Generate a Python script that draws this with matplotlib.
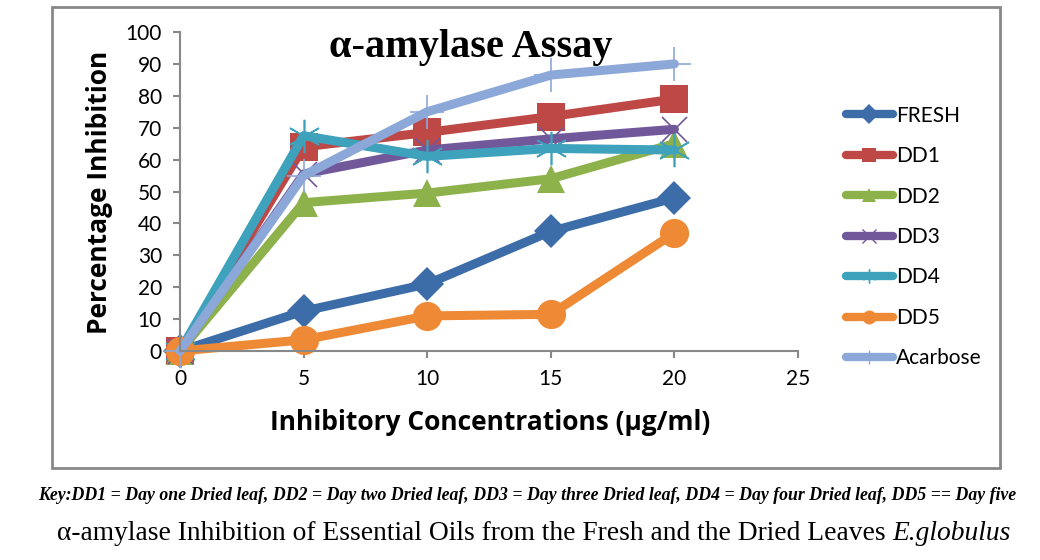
import matplotlib.pyplot as plt
from matplotlib.lines import Line2D
from matplotlib.patches import Rectangle

conc = [0, 5, 10, 15, 20]
fresh = [0, 12.5, 21, 37.5, 48]
dd1 = [0, 64, 68.5, 73.5, 79]
dd2 = [0, 46.5, 49.5, 54, 65]
dd3 = [0, 55.5, 63, 66.5, 69.5]
dd4 = [0, 67.5, 61, 63.5, 63]
dd5 = [0, 3.5, 11, 11.5, 37]
acarbose = [0, 55, 75, 86.5, 90]

names = ['FRESH', 'DD1', 'DD2', 'DD3', 'DD4', 'DD5', 'Acarbose']
series = [fresh, dd1, dd2, dd3, dd4, dd5, acarbose]
colors = ['#3D6DA8', '#BD4845', '#8DB24C', '#71589A', '#3FA2BD', '#EE8A35', '#8CA8D8']
markers = ['D', 's', '^', 'x', (6, 2, 0), 'o', '+']
msizes = [17, 20, 20, 18, 24, 21, 24]
thin_marks = [False, False, False, True, True, False, True]

fig = plt.figure(figsize=(10.4, 5.6), dpi=100)
fig.patches.append(Rectangle((52 / 1040, 1 - 468 / 560), 948 / 1040, 461 / 560,
                             transform=fig.transFigure, fill=False,
                             edgecolor='#888888', linewidth=2))

ax = fig.add_axes([180 / 1040, 1 - 351 / 560, 618 / 1040, 319 / 560])
for name, vals, c, m, ms, thin in zip(names, series, colors, markers, msizes, thin_marks):
    ax.plot(conc, vals, color=c, linewidth=6.5, solid_capstyle='round',
            marker=m, markersize=ms,
            markeredgecolor=c if thin else 'none',
            markeredgewidth=1.2 if thin else 0,
            markerfacecolor=c if not thin else 'none',
            clip_on=False, label=name)

ax.set_xlim(0, 25)
ax.set_ylim(0, 100)
ax.set_xticks([0, 5, 10, 15, 20, 25])
ax.set_yticks(range(0, 101, 10))
for s in ['top', 'right']:
    ax.spines[s].set_visible(False)
for s in ['left', 'bottom']:
    ax.spines[s].set_color('#888888')
    ax.spines[s].set_linewidth(1.5)
ax.tick_params(direction='out', length=5, width=1.5, color='#888888',
               labelsize=15, pad=8)
for lab in ax.get_xticklabels() + ax.get_yticklabels():
    lab.set_family('Lato')

fig.text(100 / 1040, 1 - 192 / 560, 'Percentage Inhibition', rotation=90,
         ha='center', va='center', fontsize=19, fontweight='bold', family='Open Sans')
fig.text(490 / 1040, 1 - 422 / 560, 'Inhibitory Concentrations (\u00b5g/ml)',
         ha='center', va='center', fontsize=19, fontweight='bold', family='Open Sans')
fig.text(471 / 1040, 1 - 48 / 560, '\u03b1-amylase Assay', ha='center', va='center',
         fontsize=29, fontweight='bold', family='Liberation Serif')

handles = []
for c, m, thin in zip(colors, markers, thin_marks):
    handles.append(Line2D([], [], color=c, linewidth=6, solid_capstyle='round',
                          marker=m, markersize=10,
                          markerfacecolor=c if not thin else 'none',
                          markeredgecolor=c if thin else 'none',
                          markeredgewidth=1 if thin else 0))
fig.legend(handles, names, loc='upper left', bbox_to_anchor=(827 / 1040, 1 - 87 / 560),
           frameon=False, handlelength=2.25, labelspacing=0.98, handletextpad=0.15,
           prop={'family': 'Lato', 'size': 15})

fig.text(527 / 1040, 1 - 496 / 560,
         'Key:DD1 = Day one Dried leaf, DD2 = Day two Dried leaf, DD3 = Day three Dried leaf, '
         'DD4 = Day four Dried leaf, DD5 == Day five',
         ha='center', va='center', fontsize=12.8, fontweight='bold', style='italic',
         family='Liberation Serif')

cap1 = fig.text(57 / 1040, 1 - 533 / 560,
                '\u03b1-amylase Inhibition of Essential Oils from the Fresh and the Dried Leaves ',
                ha='left', va='center', fontsize=19.8, family='Liberation Serif')
fig.canvas.draw()
bb = cap1.get_window_extent()
fig.text(bb.x1 / 1040, 1 - 533 / 560, 'E.globulus', ha='left', va='center',
         fontsize=19.8, style='italic', family='Liberation Serif')

fig.savefig('out.png', dpi=100)
